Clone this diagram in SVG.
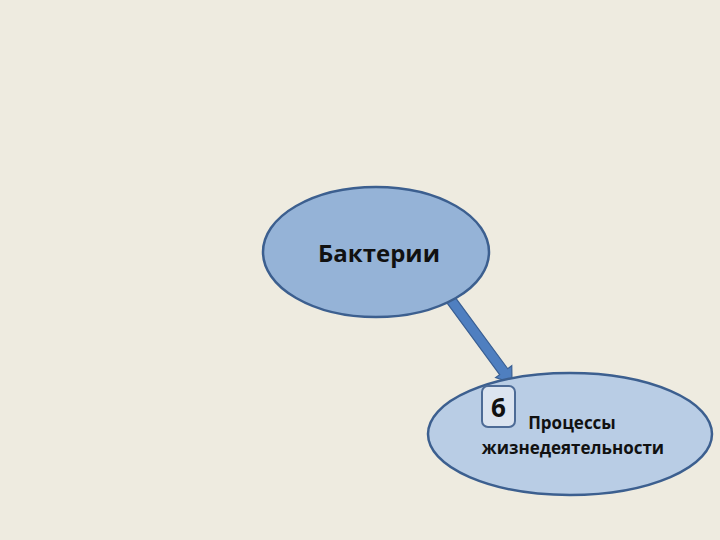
<svg xmlns="http://www.w3.org/2000/svg" width="720" height="540" viewBox="0 0 720 540">
<defs>
<style>
.node{stroke:#3c5f8f;stroke-width:2.5}
.t{font-family:"Open Sans","Liberation Sans",sans-serif;font-weight:bold;fill:#111}
</style>
</defs>
<rect width="720" height="540" fill="#eeebe0"/>
<g id="connectors">
<polygon points="446.97,302.96 499.67,374.66 495.64,377.62 512,383 511.76,365.78 507.73,368.74 455.03,297.04" fill="#4f7fc0" stroke="#3a5f93" stroke-width="1.2" stroke-linejoin="miter"/>
</g>
<g id="bacteria">
<ellipse class="node" cx="376" cy="252" rx="113" ry="65" fill="#95b3d7"/>
<text class="t" x="379" y="262" font-size="24" text-anchor="middle">Бактерии</text>
</g>
<g id="processes">
<ellipse class="node" cx="570" cy="434" rx="142" ry="61" fill="#b9cde5"/>
<rect x="482" y="386" width="33" height="41" rx="6" fill="#dbe4f0" stroke="#4d6b96" stroke-width="2"/>
<text class="t" x="498.5" y="417" font-size="26" text-anchor="middle">6</text>
<text class="t" x="572" y="429" font-size="17" text-anchor="middle">Процессы</text>
<text class="t" x="573" y="454" font-size="17" text-anchor="middle">жизнедеятельности</text>
</g>
</svg>
